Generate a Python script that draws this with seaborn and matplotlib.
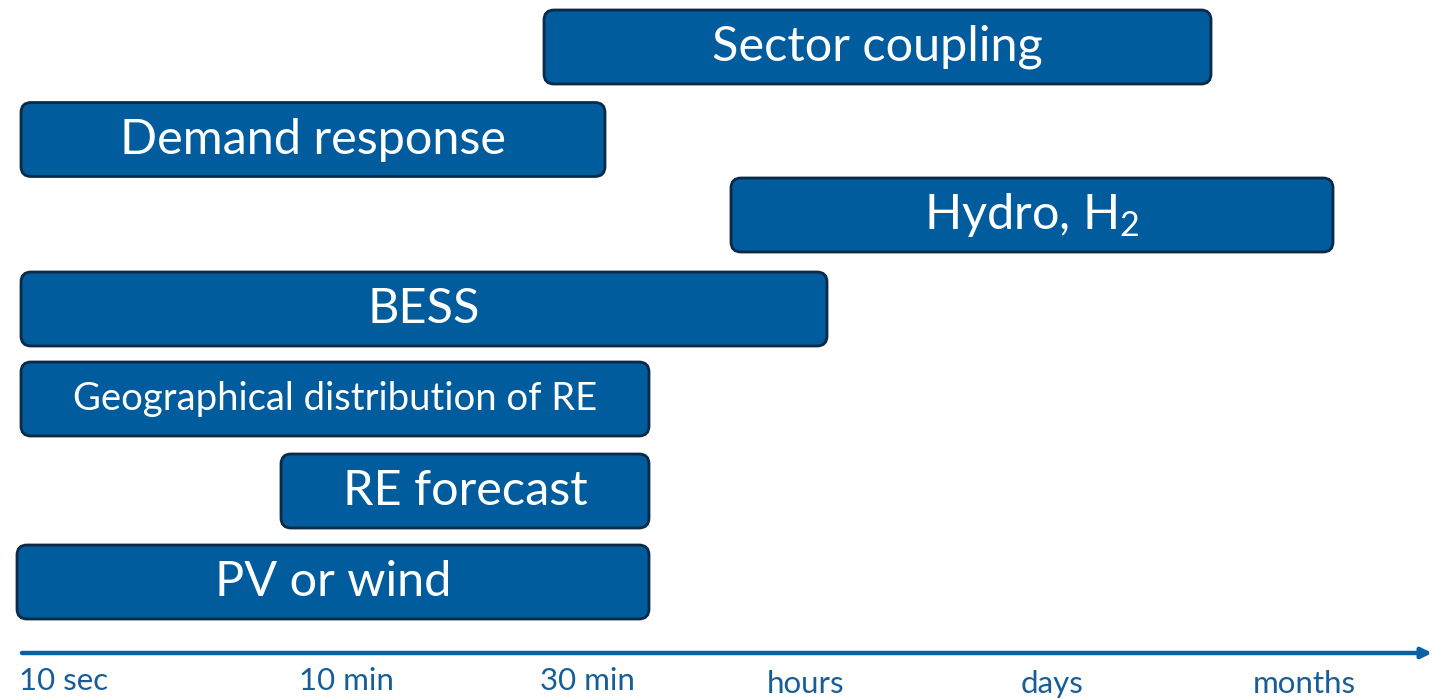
import seaborn as sns
import pandas as pd
import matplotlib.pyplot as plt
from matplotlib.patches import FancyBboxPatch

# DATA: flexibility options and the time scale they cover (x in axis units)
labels = ["Sector coupling", "Demand response", "Hydro, H$_2$", "BESS",
          "Geographical distribution of RE", "RE forecast", "PV or wind"]
starts = [544, 21, 731, 21, 21, 281, 17]
ends = [1211, 605, 1333, 827, 649, 649, 649]
rows = [47, 139.5, 215, 309, 399, 491, 582]

scale_labels = ["10 sec", "10 min", "30 min", "hours", "days", "months"]
scale_pos = [64, 346, 587, 806, 1052, 1304]

# STYLE
fill = "#005C9C"
edge = "#0C2A46"
axis_blue = "#0A62A3"
label_blue = "#175E99"

sns.set_theme(style="white")
plt.rcParams["font.family"] = ["Lato", "DejaVu Sans"]
plt.rcParams["mathtext.default"] = "regular"

fig = plt.figure(figsize=(14.32, 6.99), dpi=100)
ax = fig.add_axes([0, 0, 1, 1])

df = pd.DataFrame({"row": rows, "end": ends})
sns.barplot(data=df, x="end", y="row", orient="h", native_scale=True,
            width=74 / 75.5, color=fill, errorbar=None, ax=ax)

# swap the plain seaborn bars for rounded boxes starting at each option's start
for p in list(ax.patches):
    cy = p.get_y() + p.get_height() / 2
    i = min(range(len(rows)), key=lambda k: abs(rows[k] - cy))
    y0, h = p.get_y(), p.get_height()
    p.remove()
    box = FancyBboxPatch((starts[i], y0), ends[i] - starts[i], h,
                         boxstyle="round,pad=0,rounding_size=10",
                         facecolor=fill, edgecolor=edge, linewidth=2.0, zorder=2)
    ax.add_patch(box)
    size = 27.5 if len(labels[i]) > 20 else 35
    ax.text((starts[i] + ends[i]) / 2, cy, labels[i], color="white",
            fontsize=size, ha="center", va="center", zorder=3)

# time axis arrow
ax.annotate("", xy=(1432, 653), xytext=(22, 653),
            arrowprops=dict(arrowstyle="-|>,head_length=0.5,head_width=0.25",
                            color=axis_blue, lw=3.2, shrinkA=0, shrinkB=0))
for k, (pos, lab) in enumerate(zip(scale_pos, scale_labels)):
    ax.text(pos, 681 if k < 3 else 684, lab, color=label_blue, fontsize=22.5,
            ha="center", va="center")

ax.set_xlim(0, 1432)
ax.set_ylim(699, 0)
ax.axis("off")

fig.savefig("out.png", dpi=100)
